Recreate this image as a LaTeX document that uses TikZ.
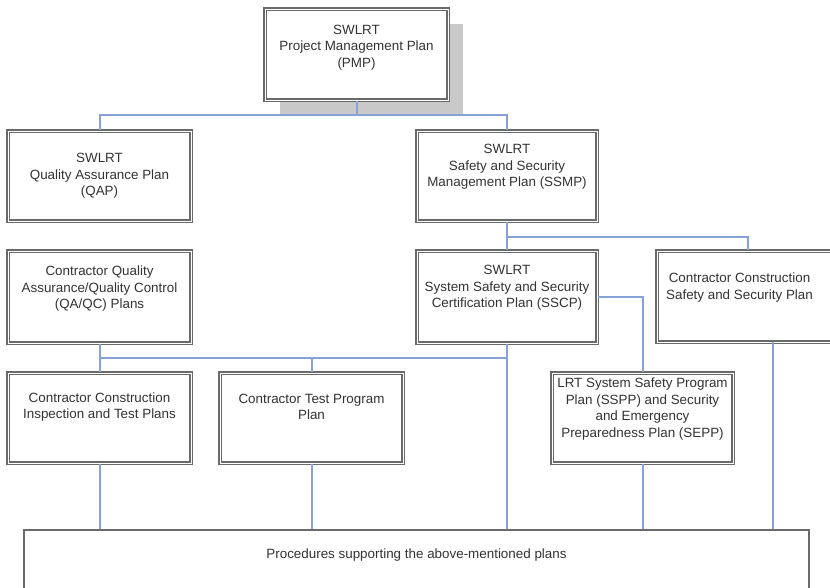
\documentclass[tikz,border=0pt]{standalone}
\usepackage{fontspec}
\setmainfont{Liberation Sans}
\definecolor{boxgray}{HTML}{6A6A6A}
\definecolor{linkblue}{HTML}{86A2D6}
\definecolor{txtgray}{HTML}{333333}
\definecolor{shadowgray}{HTML}{C9C9C9}
\begin{document}
\begin{tikzpicture}[x=1pt,y=-1pt,
  plan/.style={draw=boxgray, double=white, line width=1.3pt, double distance=0.9pt,
     fill=white, minimum width=#1, inner sep=0pt},
  plan/.default=183pt,
  base/.style={draw=boxgray, line width=1.5pt, fill=white, minimum width=785pt, minimum height=80pt, inner sep=0pt},
  txt/.style={align=center, text=txtgray, font=\fontsize{13.4}{16.5}\selectfont, inner sep=0pt},
  link/.style={draw=linkblue, line width=1.3pt}
]
\clip (0,0) rectangle (830,588);
\fill[white] (0,0) rectangle (830,588);

% shadow of PMP
\fill[shadowgray] (280,24) rectangle (463,115);

% boxes
\node[plan, minimum height=91pt] (pmp) at (356.5,54.5) {};
\node[txt] (pmpt) at ([yshift=7pt]pmp.center) {SWLRT\\Project Management Plan\\(PMP)};

\node[plan, minimum height=90pt] (qap) at (99.5,176) {};
\node[txt] (qapt) at ([yshift=0pt]qap.center) {SWLRT\\Quality Assurance Plan\\(QAP)};

\node[plan=180pt, minimum height=90pt] (ssmp) at (507,176) {};
\node[txt] (ssmpt) at ([yshift=9pt]ssmp.center) {SWLRT\\Safety and Security\\Management Plan (SSMP)};

\node[plan, minimum height=92pt] (qaqc) at (99.5,297) {};
\node[txt] (qaqct) at ([yshift=8pt]qaqc.center) {Contractor Quality\\Assurance/Quality Control\\(QA/QC) Plans};

\node[plan=180pt, minimum height=92pt] (sscp) at (507,297) {};
\node[txt] (sscpt) at ([yshift=9pt]sscp.center) {SWLRT\\System Safety and Security\\Certification Plan (SSCP)};

\node[plan, minimum height=91pt] (ccss) at (748.5,296.5) {};
\node[txt] (ccsst) at ([xshift=-9pt,yshift=9pt]ccss.center) {Contractor Construction\\Safety and Security Plan};

\node[plan, minimum height=90pt] (ccit) at (99.5,418) {};
\node[txt] (ccitt) at ([yshift=11pt]ccit.center) {Contractor Construction\\Inspection and Test Plans};

\node[plan, minimum height=90pt] (ctp) at (311.5,418) {};
\node[txt] (ctpt) at ([yshift=11pt]ctp.center) {Contractor Test Program\\Plan};

\node[plan=181pt, minimum height=90pt] (lrt) at (642.5,418) {};
\node[txt] (lrtt) at ([yshift=9pt]lrt.center) {LRT System Safety Program\\Plan (SSPP) and Security\\and Emergency\\Preparedness Plan (SEPP)};

\node[base] (bot) at (416.5,570) {};
\node[txt] (bott) at (416.5,555) {Procedures supporting the above-mentioned plans};

% junction coordinates
\coordinate (j1) at (357,115);
\coordinate (j1l) at (100,115);
\coordinate (j2) at (507,237);
\coordinate (j2r) at (748,237);
\coordinate (j3) at (100,358);
\coordinate (j3m) at (312,358);
\coordinate (j4) at (643,297);
\coordinate (ccssdrop) at (773,342);

% connectors
\draw[link] (pmp.south -| j1) -- (j1);
\draw[link] (qap.north -| j1l) -- (j1l) -- (ssmp.north |- j1) -- (ssmp.north);
\draw[link] (ssmp.south) -- (j2) -- (j2r) -- (ccss.north -| j2r);
\draw[link] (j2) -- (sscp.north);
\draw[link] (sscp.east |- j4) -- (j4) -- (lrt.north -| j4);
\draw[link] (sscp.south) -- (sscp.south |- bot.north);
\draw[link] (qaqc.south -| j3) -- (j3) -- (sscp.south |- j3);
\draw[link] (j3m) -- (ctp.north -| j3m);
\draw[link] (j3) -- (ccit.north -| j3);
\draw[link] (ccit.south -| j3) -- (bot.north -| j3);
\draw[link] (ctp.south -| j3m) -- (bot.north -| j3m);
\draw[link] (lrt.south -| j4) -- (bot.north -| j4);
\draw[link] (ccssdrop) -- (bot.north -| ccssdrop);

% redraw bottom box border on top of link ends
\draw[boxgray, line width=1.5pt] (bot.north west) -- (bot.north east);
\end{tikzpicture}
\end{document}
